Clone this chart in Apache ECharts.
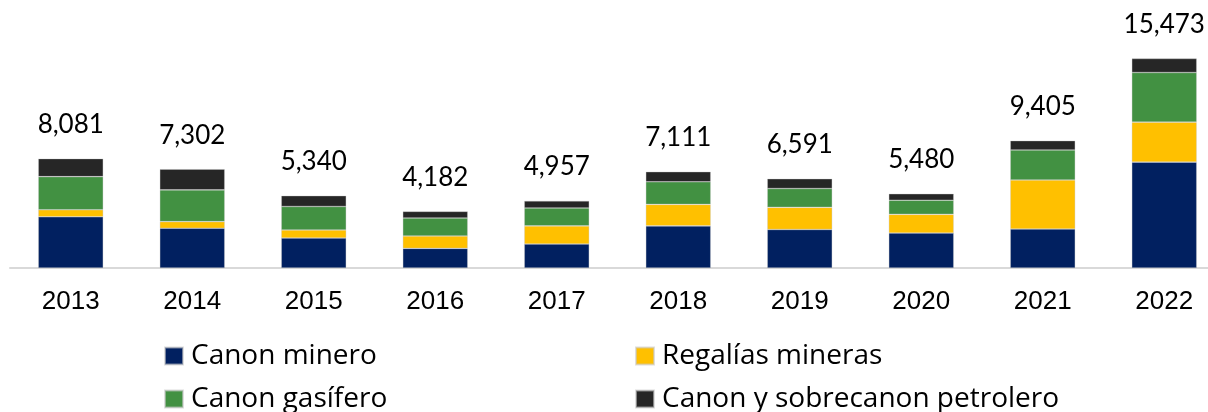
<!DOCTYPE html>
<html>
<head>
<meta charset="utf-8">
<script src="https://cdn.jsdelivr.net/npm/echarts@6/dist/echarts.min.js"></script>
<style>
html,body{margin:0;padding:0;background:#fff;}
#chart{width:1208px;height:412px;}
</style>
</head>
<body>
<div id="chart"></div>
<script>
const years = ['2013','2014','2015','2016','2017','2018','2019','2020','2021','2022'];
const canonMinero = [3781, 2937, 2212, 1449, 1769, 3108, 2846, 2580, 2881, 7821];
const regaliasMineras = [519, 488, 596, 919, 1344, 1588, 1635, 1383, 3620, 2951];
const canonGasifero = [2447, 2345, 1735, 1322, 1321, 1670, 1389, 1041, 2216, 3667];
const canonPetrolero = [1334, 1532, 797, 492, 523, 745, 721, 476, 688, 1034];
const totals = [8081, 7302, 5340, 4182, 4957, 7111, 6591, 5480, 9405, 15473];

const chart = echarts.init(document.getElementById('chart'));
const fmt = v => v.toString().replace(/\B(?=(\d{3})+(?!\d))/g, ',');
const border = {borderColor: 'rgba(200,200,200,0.6)', borderWidth: 0.6};

function s(name, data, color, extra) {
  return Object.assign({
    name: name, type: 'bar', stack: 'total', data: data, barWidth: 65,
    itemStyle: Object.assign({color: color}, border),
    animation: false
  }, extra || {});
}

const legendText = {fontFamily: 'Open Sans', fontSize: 28, lineHeight: 26, color: '#000', padding: [0,0,0,3]};

chart.setOption({
  animation: false,
  grid: {left: 10, width: 1215, top: 24.3, bottom: 144, containLabel: false, outerBoundsMode: 'none'},
  legend: [
    {
      orient: 'vertical', left: 159, top: 337, height: 75, width: 440,
      itemWidth: 18, itemHeight: 17, itemGap: 15, padding: 5,
      icon: 'rect', textStyle: legendText,
      data: ['Canon minero', 'Canon gasífero']
    },
    {
      orient: 'vertical', left: 630, top: 337, height: 75, width: 578,
      itemWidth: 18, itemHeight: 17, itemGap: 15, padding: 5,
      icon: 'rect', textStyle: legendText,
      data: ['Regalías mineras', 'Canon y sobrecanon petrolero']
    }
  ],
  xAxis: {
    type: 'category', data: years,
    axisLine: {lineStyle: {color: '#D9D9D9', width: 2}},
    axisTick: {show: false},
    axisLabel: {fontFamily: 'Liberation Sans', fontSize: 26, color: '#000', margin: 21}
  },
  yAxis: {
    type: 'value', min: 0, max: 18000, show: false,
    splitLine: {show: false}
  },
  series: [
    s('Canon minero', canonMinero, '#012060'),
    s('Regalías mineras', regaliasMineras, '#FFC000'),
    s('Canon gasífero', canonGasifero, '#429142'),
    s('Canon y sobrecanon petrolero', canonPetrolero, '#262626', {
      label: {
        show: true, position: 'top', distance: 21,
        fontFamily: 'Lato', fontSize: 26, color: '#000',
        formatter: p => fmt(totals[p.dataIndex])
      }
    })
  ]
});
</script>
</body>
</html>
